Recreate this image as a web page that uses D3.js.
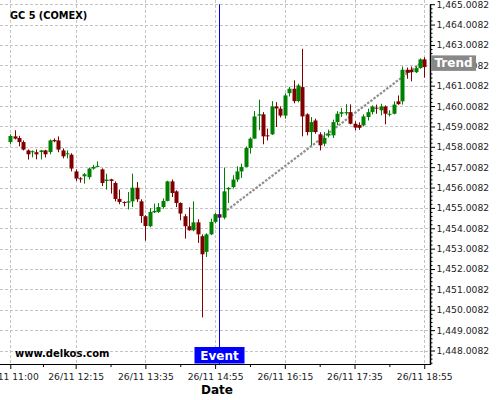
<!DOCTYPE html>
<html><head><meta charset="utf-8">
<script src="https://cdn.jsdelivr.net/npm/d3@7"></script>
<style>body{margin:0;background:#fff}svg{display:block}text{font-family:"DejaVu Sans",sans-serif}</style>
</head><body><svg id="c" width="500" height="400"></svg>
<script>
const title = "GC 5 (COMEX)";
const watermark = "www.delkos.com";
const firstCandle = "26/11 11:00";
const stepMinutes = 5;
const open = [1458.24,1458.52,1458.44,1458.24,1457.83,1457.74,1457.74,1457.75,1457.83,1457.75,
1458.34,1458.32,1457.83,1457.65,1457.62,1456.80,1456.46,1456.56,1456.52,1456.94,
1457.03,1456.90,1456.33,1456.41,1456.23,1455.45,1455.30,1455.27,1455.33,1456.00,
1455.33,1454.60,1454.11,1454.79,1454.81,1455.05,1455.35,1456.31,1455.82,1455.25,
1454.60,1454.11,1453.91,1454.30,1453.62,1452.85,1453.71,1454.32,1454.70,1454.53,
1455.92,1456.03,1456.40,1456.80,1457.02,1457.95,1458.41,1459.54,1459.60,1458.57,
1458.62,1459.99,1459.88,1459.54,1460.64,1460.86,1460.25,1460.94,1459.60,1458.73,
1459.30,1458.62,1458.16,1458.56,1458.57,1459.22,1459.63,1459.65,1459.71,1459.14,
1459.08,1459.06,1459.47,1459.71,1459.93,1459.80,1459.99,1459.58,1459.63,1460.24,
1460.24,1461.79,1461.79,1461.67,1461.87,1462.30];
const high = [1458.62,1458.82,1458.55,1458.32,1457.88,1457.83,1457.88,1457.86,1457.86,1458.37,
1458.42,1458.52,1457.93,1457.83,1457.69,1456.90,1456.52,1456.72,1456.99,1457.12,
1457.29,1456.95,1456.69,1456.44,1456.31,1455.91,1455.33,1455.79,1456.69,1456.28,
1455.43,1454.65,1455.00,1455.22,1455.25,1455.47,1456.34,1456.40,1455.87,1455.28,
1454.70,1455.04,1455.33,1454.45,1453.71,1453.76,1454.48,1454.76,1454.72,1456.99,
1456.03,1456.61,1457.05,1457.18,1458.03,1458.47,1459.76,1460.32,1459.71,1458.90,
1460.25,1460.20,1459.99,1460.63,1460.95,1461.27,1461.10,1462.82,1459.65,1459.47,
1459.39,1458.72,1458.73,1458.85,1459.34,1459.76,1459.91,1460.10,1460.09,1459.26,
1459.21,1459.60,1459.88,1460.04,1460.08,1460.12,1460.04,1459.80,1460.24,1460.53,
1461.95,1461.90,1461.95,1461.95,1462.35,1462.41];
const low = [1458.13,1458.37,1458.03,1457.83,1457.38,1457.49,1457.39,1457.39,1457.49,1457.64,
1458.23,1457.74,1457.44,1457.44,1456.80,1456.33,1456.25,1456.20,1456.41,1456.89,
1457.02,1456.08,1455.91,1455.71,1455.33,1455.19,1455.09,1454.93,1455.05,1455.30,
1454.27,1453.40,1454.06,1454.76,1454.76,1454.97,1455.33,1455.54,1455.05,1454.40,
1453.50,1453.89,1453.86,1453.29,1449.63,1452.60,1453.67,1454.25,1454.50,1454.45,
1455.25,1455.96,1456.28,1456.48,1457.00,1457.67,1458.40,1458.82,1458.13,1458.32,
1458.59,1458.98,1459.45,1459.39,1460.48,1460.14,1460.19,1458.52,1458.57,1458.08,
1458.65,1457.83,1458.03,1458.47,1458.44,1459.06,1459.47,1459.55,1459.11,1458.82,
1458.84,1459.01,1459.30,1459.60,1459.63,1459.55,1459.11,1459.50,1459.60,1460.07,
1460.08,1461.35,1461.22,1461.63,1461.84,1461.40];
const close = [1458.54,1458.41,1458.24,1457.87,1457.64,1457.79,1457.64,1457.83,1457.64,1458.32,
1458.28,1457.87,1457.54,1457.69,1456.94,1456.45,1456.42,1456.66,1456.94,1457.02,
1457.07,1456.23,1456.40,1456.33,1455.45,1455.30,1455.25,1455.33,1456.00,1455.43,
1454.61,1454.12,1454.81,1454.86,1455.05,1455.35,1456.31,1455.74,1455.25,1454.73,
1454.11,1453.91,1454.30,1453.71,1452.73,1453.71,1454.32,1454.70,1454.53,1455.82,
1455.99,1456.40,1456.80,1457.02,1457.95,1458.41,1459.50,1459.60,1458.52,1458.52,
1459.99,1459.89,1459.54,1460.53,1460.86,1460.25,1461.02,1459.50,1458.73,1459.22,
1458.73,1458.08,1458.44,1458.65,1459.22,1459.63,1459.71,1459.71,1459.14,1458.95,
1458.94,1459.50,1459.71,1459.99,1459.88,1459.99,1459.63,1459.63,1460.08,1460.10,
1461.79,1461.64,1461.67,1461.87,1462.30,1461.92];
const xTickLabels = ["26/11 11:00","26/11 12:15","26/11 13:35","26/11 14:55","26/11 16:15","26/11 17:35","26/11 18:55"];
const yTicks = [1448.0082,1449.0082,1450.0082,1451.0082,1452.0082,1453.0082,1454.0082,1455.0082,1456.0082,
1457.0082,1458.0082,1459.0082,1460.0082,1461.0082,1462.0082,1463.0082,1464.0082,1465.0082];
const eventTime = "26/11 15:00";
const eventLabel = "Event";
const trendTimes = ["26/11 15:05","26/11 18:55"];
const trendValues = [1454.78, 1462.25];
const trendLabel = "Trend";
const xAxisTitle = "Date";

const parse = d3.timeParse("%d/%m %H:%M");
const fmt = d3.timeFormat("%d/%m %H:%M");
const t0 = parse(firstCandle);
const candles = open.map((o,i)=>({t:d3.timeMinute.offset(t0, i*stepMinutes), o, h:high[i], l:low[i], c:close[i]}));

const W=430, H=364, TOP=4.2;
const svg = d3.select("#c");
const x = d3.scaleTime()
  .domain([new Date(+t0 - 11.82*60000), new Date(+t0 + 481.6*60000)])
  .range([0, W]);
const y = d3.scaleLinear().domain([1448.0082,1465.0082]).range([350.5, TOP]);

// grid
const grid = svg.append("g").attr("stroke","#c4c4c4").attr("stroke-dasharray","3,2").attr("stroke-width",1);
yTicks.forEach(v=>grid.append("line").attr("x1",0).attr("x2",W).attr("y1",Math.round(y(v))+0.5).attr("y2",Math.round(y(v))+0.5));
xTickLabels.forEach(s=>{const xx=Math.round(x(parse(s)))+0.5; grid.append("line").attr("x1",xx).attr("x2",xx).attr("y1",0).attr("y2",H);});

// title & watermark
svg.append("text").attr("x",10).attr("y",19).attr("font-size",9.8).attr("font-weight","bold").text(title);
svg.append("text").attr("x",15).attr("y",357).attr("font-size",10).attr("font-weight","bold").text(watermark);

// trend line
svg.append("line")
  .attr("x1",x(parse(trendTimes[0]))).attr("y1",y(trendValues[0]))
  .attr("x2",x(parse(trendTimes[1]))).attr("y2",y(trendValues[1]))
  .attr("stroke","#8f8f8f").attr("stroke-width",2.2).attr("stroke-dasharray","2.5,1.5");

// candles
const bw = 4;
const cg = svg.append("g");
candles.forEach(d=>{
  const col = d.c >= d.o ? "#008000" : "#800000";
  const cx = Math.round(x(d.t));
  cg.append("line").attr("x1",cx+0.5).attr("x2",cx+0.5).attr("y1",y(d.h)).attr("y2",y(d.l)).attr("stroke",col).attr("stroke-width",1);
  const top = y(Math.max(d.o,d.c)), bot = y(Math.min(d.o,d.c));
  cg.append("rect").attr("x",cx+0.5-bw/2).attr("y",top).attr("width",bw).attr("height",Math.max(1,bot-top)).attr("fill",col);
});

// event
const ex = Math.round(x(parse(eventTime)))+0.5;
svg.append("line").attr("x1",ex).attr("x2",ex).attr("y1",TOP).attr("y2",H).attr("stroke","#0000ff").attr("stroke-width",1);
svg.append("rect").attr("x",ex-25).attr("y",347).attr("width",50).attr("height",16.5).attr("fill","#0000ff");
svg.append("text").attr("x",ex).attr("y",360).attr("text-anchor","middle").attr("fill","#fff").attr("font-size",12).attr("font-weight","bold").text(eventLabel);

// axes
const majorT = xTickLabels.map(parse);
const minorT = majorT.slice(1).map((t,i)=>new Date((+t + +majorT[i])/2));
const xa = svg.append("g").attr("transform",`translate(0,${H})`)
  .call(d3.axisBottom(x).tickValues(majorT).tickFormat(fmt).tickSize(5).tickSizeOuter(0));
xa.select(".domain").remove();
xa.selectAll("text").attr("font-size",9.2).attr("font-family","DejaVu Sans").attr("fill","#222").attr("y",9).attr("dy","0.71em");
svg.append("g").attr("transform",`translate(0,${H})`)
  .call(d3.axisBottom(x).tickValues(minorT).tickFormat("").tickSize(3).tickSizeOuter(0))
  .select(".domain").remove();
const ya = svg.append("g").attr("transform",`translate(${W},0)`)
  .call(d3.axisRight(y).tickValues(yTicks).tickFormat(d3.format(",.4f")).tickSize(5).tickSizeOuter(0));
ya.select(".domain").remove();
ya.selectAll("text").attr("font-size",9.2).attr("font-family","DejaVu Sans").attr("fill","#222").attr("x",6.5);
const yMinor = [];
yTicks.forEach(v=>{ [0.2,0.4,0.6,0.8].forEach(f=>{ if (y(v+f) > TOP) yMinor.push(v+f); }); });
yTicks.slice(0,1).forEach(v=>{ [0.2,0.4,0.6].forEach(f=>{ if (y(v-f) < H) yMinor.push(v-f); }); });
svg.append("g").attr("transform",`translate(${W},0)`)
  .call(d3.axisRight(y).tickValues(yMinor).tickFormat("").tickSize(2.5).tickSizeOuter(0))
  .select(".domain").remove();
svg.append("line").attr("x1",0).attr("x2",W).attr("y1",H+0.5).attr("y2",H+0.5).attr("stroke","#000");
svg.append("line").attr("x1",W+0.5).attr("x2",W+0.5).attr("y1",TOP).attr("y2",H+1).attr("stroke","#000").attr("stroke-width",1.5);

svg.append("text").attr("x",217).attr("y",394).attr("text-anchor","middle").attr("font-size",12).attr("font-weight","bold").text(xAxisTitle);

// trend label
const ty = y(trendValues[1]);
svg.append("rect").attr("x",W+1).attr("y",ty-5).attr("width",45).attr("height",15.5).attr("fill","#888");
svg.append("text").attr("x",W+23.5).attr("y",ty+7).attr("text-anchor","middle").attr("fill","#fff").attr("font-size",12).attr("font-weight","bold").text(trendLabel);
</script></body></html>
